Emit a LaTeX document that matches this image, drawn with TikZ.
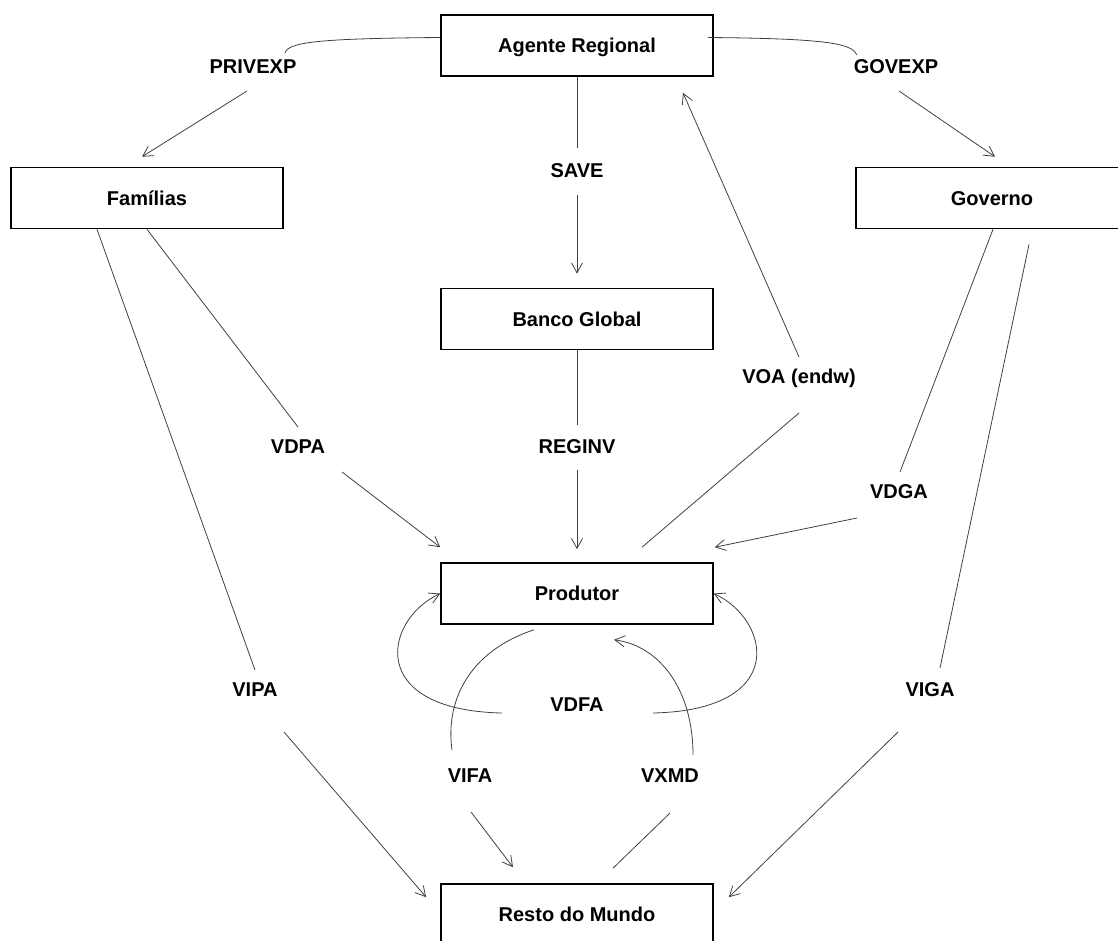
\documentclass[tikz,border=0pt]{standalone}
\usepackage{fontspec}
\setmainfont{Liberation Sans}
\usetikzlibrary{arrows.meta,calc}

\begin{document}
\begin{tikzpicture}
  [x=1pt,y=-1pt,
   every node/.style={font=\fontsize{20}{24}\selectfont\bfseries,text height=14.5pt,text depth=0pt},
   box/.style={draw,line width=1.6pt,minimum width=272pt,minimum height=61pt,inner sep=0pt},
   flow/.style={draw=black!75,line width=0.8pt},
   arr/.style={flow,-{Straight Barb[length=10pt,width=11pt]}}]
  \useasboundingbox (0,0) rectangle (1118,940);

  % blocos
  \node[box] (ag) at (577,45.5) {Agente Regional};
  \node[box] (fam) at (147,198) {Famílias};
  \node[box] (gov) at (992,198) {Governo};
  \node[box] (bg) at (577,319) {Banco Global};
  \node[box] (prod) at (577,593.5) {Produtor};
  \node[box] (rm) at (577,914.5) {Resto do Mundo};

  % fluxos
  \node (privexp) at (253,66) {PRIVEXP};
  \node (govexp) at (896,66) {GOVEXP};
  \node (save) at (577,170) {SAVE};
  \node (vdpa) at (298,446) {VDPA};
  \node (reginv) at (577,446) {REGINV};
  \node (voa) at (799,376) {VOA (endw)};
  \node (vdga) at (899,491) {VDGA};
  \node (vipa) at (255,689) {VIPA};
  \node (vdfa) at (577,704) {VDFA};
  \node (viga) at (930,689) {VIGA};
  \node (vifa) at (470,775) {VIFA};
  \node (vxmd) at (670,775) {VXMD};

  \draw[flow] ($(ag.west)+(0,-8)$) .. controls +(-121,1) and +(3,-11) .. ($(privexp)+(32,-13)$);
  \draw[arr] ($(privexp)+(-6,25)$) -- ($(fam.north)+(-5,-10)$);
  \draw[flow] ($(ag.east)+(-6,-8)$) .. controls +(123,1) and +(-5,-11) .. ($(govexp)+(-39,-11)$);
  \draw[arr] ($(govexp)+(3,25)$) -- ($(gov.north)+(3,-10)$);

  \draw[flow] (ag.south) -- ($(save)+(0,-22)$);
  \draw[arr] ($(save)+(0,25)$) -- ($(bg.north)+(0,-14)$);
  \draw[flow] (bg.south) -- ($(reginv)+(0,-21)$);
  \draw[arr] ($(reginv)+(0,24)$) -- ($(prod.north)+(0,-13)$);

  \draw[flow] (fam.south) -- ($(vdpa)+(0,-19)$);
  \draw[arr] ($(vdpa)+(44,26)$) -- ($(prod.north west)+(0,-15)$);
  \draw[flow] ($(fam.south)+(-50,0)$) -- ($(vipa)+(0,-19)$);
  \draw[arr] ($(vipa)+(29,43)$) -- ($(rm.north west)+(-14,14)$);

  \draw[flow] ($(prod.north)+(65,-15)$) -- ($(voa)+(0,37)$);
  \draw[arr] ($(voa)+(0,-19)$) -- ($(ag.south)+(106,16)$);

  \draw[flow] ($(gov.south)+(1,0)$) -- ($(vdga)+(1,-19)$);
  \draw[arr] ($(vdga)+(-42,27)$) -- ($(prod.north east)+(1,-15)$);
  \draw[flow] ($(gov.south)+(37,15)$) -- ($(viga)+(10,-21)$);
  \draw[arr] ($(viga)+(-32,43)$) -- ($(rm.north east)+(15,14)$);

  \draw[arr] ($(vdfa)+(-75,9)$) .. controls +(-137,-3) and +(-56,26) .. (prod.west);
  \draw[arr] ($(vdfa)+(76,9)$) .. controls +(137,-3) and +(56,26) .. (prod.east);

  \draw[flow] ($(prod.south)+(-43,5)$) .. controls +(-64,21) and +(-7,-50) .. ($(vifa)+(-18,-25)$);
  \draw[arr] ($(vifa)+(1,37)$) -- ($(rm.north)+(-64,-16)$);
  \draw[arr] ($(vxmd)+(23,-20)$) .. controls +(0,-65) and +(46,6) .. ($(prod.south)+(37,15)$);
  \draw[flow] ($(rm.north)+(36,-15)$) -- ($(vxmd)+(0,38)$);
\end{tikzpicture}
\end{document}
